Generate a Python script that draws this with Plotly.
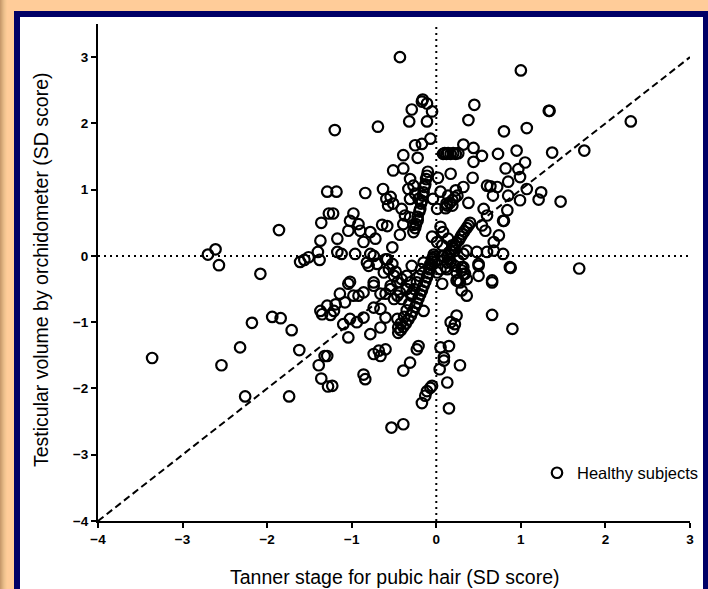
import plotly.graph_objects as go

# ---- data ----
x_ticks = [-4, -3, -2, -1, 0, 1, 2, 3]
y_ticks = [-4, -3, -2, -1, 0, 1, 2, 3]

tanner_sds = [
    -3.36, -2.70, -2.61, -2.57, -2.08, -1.86, -1.61, -1.56, -1.51, -1.40,
    -1.38, -1.37, -1.36, -1.29, -1.27, -2.18, -1.94, -1.84, -1.71, -2.32,
    -2.54, -1.62, -2.26, -1.74, -1.39, -1.36, -1.28, -1.32, -1.29, -1.37,
    -1.35, -1.29, -1.25,
    -0.43, 1.00, -0.16, -0.11, 0.45, -1.20, -0.69, -0.29, -0.32, -0.11,
    -0.17, -0.05, 0.38, 0.80, 1.07, -0.25, -0.17, -0.07, -0.22, -0.39,
    -0.51, -0.39, 0.08, 0.10, 0.12, 0.14, 0.17, 0.20, 0.23, 0.26,
    0.32, 0.44, 0.54, 0.44, 0.73, 0.95, 0.82, 0.97, 1.05, 1.07,
    0.99, 0.85, 0.72, 0.60, 0.64, 0.67, 0.85, 0.99, 0.17, 0.43,
    0.32, 0.23, 0.14, 0.12, 0.19, 0.38, 0.02, 0.05, -0.04, 0.01,
    1.33, 1.34, 2.30, 1.37, 1.75, 1.24, 1.21, 1.47, 1.69, 0.90,
    0.66,
    -1.18, -1.22, -0.84, -0.63, -0.59, -0.54, -0.57, -0.51, -0.31, -0.27,
    -0.33, -0.25, -0.31, -0.21, -0.41, -0.37, -0.31, -0.39, -0.27, -0.98,
    -1.02, -0.92, -0.90, -0.78, -0.72, -1.04, -1.17, -0.64, -0.58, -0.43,
    -0.86, -0.52, -0.78, -0.74, -0.82, -0.80, -0.70, -0.60, -0.96, -1.12,
    -1.17, -1.02, -1.14, -0.92, -0.74, -0.66, -0.48, -0.41, -0.54, -0.46,
    -0.35, -0.29,
    0.05, 0.08, -0.05, 0.01, 0.07, 0.14, 0.19, 0.08, 0.17, 0.22,
    0.13, 0.24, 0.30, 0.36, 0.48, 0.60, 0.68, 0.79, 0.50, 0.66,
    0.87, 0.88, 0.32, 0.36, 0.30, 0.24, 0.58, 0.74, 0.79, 0.80,
    0.68, 0.56, 0.60, 0.54, 0.84,
    -0.10, -0.11, -0.12, -0.13, -0.14, -0.15, -0.16, -0.17, -0.18, -0.19,
    -0.20, -0.22, -0.22, -0.24, -0.25, -0.27,
    0.40, 0.38, 0.36, 0.33, 0.31, 0.29, 0.27, 0.24, 0.22, 0.20,
    0.17, 0.15, 0.13,
    -0.03, -0.04, -0.05, -0.06, -0.08, -0.09, -0.11, -0.13, -0.15, -0.17,
    -0.19, -0.21, -0.23, -0.25, -0.28, -0.30, -0.33, -0.36, -0.39, -0.42,
    -0.45, -0.02, -0.05, -0.07, -0.02,
    -0.15, -0.18, -0.20, -0.23, -0.26, -0.29, -0.32, -0.35, -0.38, -0.42,
    -0.45,
    0.11, 0.13, 0.16, 0.19, 0.22, 0.25,
    -1.04, -1.19, -1.08, -0.98, -0.86, -0.74, -1.02, -1.04, -0.86, -0.78,
    -1.10, -1.21, -0.94, -0.66, -0.60, -0.74, -0.66, -0.46, 0.07, -0.15,
    0.05, 0.01, 0.13, 0.11, 0.15, 0.26, 0.28, 0.36, 0.32, 0.34,
    0.30, 0.50, 0.50, 0.66, 0.24, 0.17, 0.20, 0.22, -0.21, -0.23,
    0.05, 0.15, 0.09, 0.09, 0.28, 0.04, -0.39, -0.31, -0.74, -0.66,
    -0.60, -0.68, -0.86, -0.84, -1.23, -0.07, -0.11, -0.13, -0.17, -0.05,
    0.13, 0.15, -0.53, -0.39, -0.58, -0.52, -0.56, -0.62, -0.50, -0.46,
    -0.54, -0.43, -0.41, -0.50, -0.60, -0.31, -0.35, -0.29, 0.22, 0.32,
    0.26,
]

testis_sds = [
    -1.54, 0.02, 0.10, -0.14, -0.27, 0.39, -0.09, -0.06, -0.02, 0.06,
    -0.06, 0.23, 0.50, 0.97, 0.64, -1.01, -0.92, -0.94, -1.12, -1.38,
    -1.65, -1.42, -2.12, -2.12, -1.65, -1.85, -1.97, -1.51, -1.51, -0.83,
    -0.88, -0.75, -0.89,
    3.00, 2.80, 2.36, 2.30, 2.28, 1.90, 1.95, 2.21, 2.03, 2.03,
    2.33, 2.18, 2.05, 1.88, 1.93, 1.67, 1.69, 1.77, 1.48, 1.52,
    1.29, 1.32, 1.54, 1.55, 1.54, 1.55, 1.54, 1.55, 1.54, 1.55,
    1.68, 1.63, 1.51, 1.42, 1.54, 1.59, 1.32, 1.31, 1.41, 1.01,
    1.19, 1.12, 1.04, 1.06, 1.05, 0.91, 0.91, 0.84, 1.24, 1.18,
    1.04, 0.99, 0.91, 0.79, 0.76, 0.80, 1.18, 0.97, 0.86, 0.71,
    2.19, 2.19, 2.03, 1.56, 1.59, 0.96, 0.85, 0.82, -0.19, -1.10,
    -0.89,
    0.97, 0.64, 0.95, 1.01, 0.86, 0.89, 0.76, 0.79, 1.16, 1.06,
    1.01, 0.94, 0.86, 0.86, 0.71, 0.61, 0.58, 0.48, 0.47, 0.64,
    0.53, 0.48, 0.38, 0.36, 0.26, 0.38, 0.26, 0.47, 0.45, 0.32,
    0.21, 0.13, 0.03, 0.00, -0.10, -0.15, -0.12, -0.05, 0.03, 0.03,
    0.06, -0.39, -0.57, -0.60, -0.45, -0.57, -0.24, -0.35, -0.45, -0.60,
    -0.50, -0.15,
    0.44, 0.36, 0.29, 0.21, 0.16, 0.26, 0.16, 0.00, -0.09, -0.15,
    -0.20, -0.25, -0.17, 0.08, 0.06, 0.06, 0.08, 0.03, -0.15, -0.37,
    -0.17, -0.18, -0.27, -0.35, -0.52, -0.37, 0.38, 0.31, 0.53, 0.53,
    0.21, 0.71, 0.61, 0.46, 0.69,
    1.27, 1.21, 1.16, 1.08, 1.04, 0.96, 0.91, 0.83, 0.79, 0.71,
    0.67, 0.59, 0.54, 0.48, 0.42, 0.36,
    0.50, 0.46, 0.42, 0.37, 0.33, 0.29, 0.24, 0.20, 0.16, 0.11,
    0.07, 0.03, 0.00,
    0.02, -0.03, -0.08, -0.14, -0.20, -0.26, -0.32, -0.39, -0.45, -0.52,
    -0.58, -0.64, -0.71, -0.77, -0.84, -0.90, -0.96, -1.02, -1.07, -1.12,
    -1.16, -0.01, -0.05, -0.12, -0.10,
    -0.10, -0.20, -0.30, -0.40, -0.50, -0.60, -0.72, -0.82, -0.92, -1.02,
    -1.08,
    0.72, 0.76, 0.80, 0.84, 0.88, 0.91,
    -0.42, -0.73, -0.70, -0.60, -0.55, -0.40, -0.95, -1.23, -0.93, -1.18,
    -1.03, -0.83, -1.00, -1.08, -0.93, -0.78, -0.80, -0.95, -0.42, -0.83,
    -0.20, -0.25, -0.10, -0.17, -0.05, -0.37, -0.40, -0.60, -0.17, -0.27,
    -0.22, -0.12, -0.30, -0.40, -0.90, -1.00, -1.10, -1.03, -1.36, -1.41,
    -1.38, -1.36, -1.53, -1.58, -1.65, -1.71, -1.73, -1.61, -1.48, -1.51,
    -1.41, -1.43, -1.79, -1.86, -1.96, -1.99, -2.04, -2.11, -2.22, -1.96,
    -1.91, -2.30, -2.59, -2.54, -0.05, -0.12, -0.20, -0.25, -0.30, -0.40,
    -0.50, -0.55, -0.65, -0.65, -0.57, -0.40, -0.30, -0.57, 0.08, 0.03,
    -0.07,
]

x_range = [-4, 3]
y_range = [-4, 3.5]
identity_x = [-4, 3]
identity_y = [-4, 3]

W, H = 708, 589
px = lambda v: v / W
py = lambda v: 1 - v / H

fig = go.Figure()

# reference lines
fig.add_trace(go.Scatter(x=x_range, y=[0, 0], mode="lines",
                         line=dict(color="black", width=2, dash="2px,4px"),
                         showlegend=False, hoverinfo="skip"))
fig.add_trace(go.Scatter(x=[0, 0], y=y_range, mode="lines",
                         line=dict(color="black", width=2, dash="2px,4px"),
                         showlegend=False, hoverinfo="skip"))
fig.add_trace(go.Scatter(x=identity_x, y=identity_y, mode="lines",
                         line=dict(color="black", width=2, dash="7px,4px"),
                         showlegend=False, hoverinfo="skip"))

fig.add_trace(go.Scatter(
    x=tanner_sds, y=testis_sds, mode="markers", name="Healthy subjects",
    marker=dict(symbol="circle-open", size=10.5, color="black",
                line=dict(width=2.2, color="black")),
    cliponaxis=False,
))

shapes = []
# left shading strip of the orange background
strip_cols = ["#c89a6c", "#d2a574", "#dcaf7e", "#e6b986", "#eec18d", "#f5c692", "#fbca96"]
for i, c in enumerate(strip_cols):
    shapes.append(dict(type="rect", xref="paper", yref="paper", layer="below",
                       x0=px(i), x1=px(i + 1), y0=0, y1=1,
                       fillcolor=c, line=dict(width=0)))
# navy frame and white panel
shapes.append(dict(type="rect", xref="paper", yref="paper", layer="below",
                   x0=px(14), x1=1.01, y0=-0.01, y1=py(11),
                   fillcolor="#000066", line=dict(width=0)))
shapes.append(dict(type="rect", xref="paper", yref="paper", layer="below",
                   x0=px(20), x1=px(703), y0=-0.01, y1=py(17),
                   fillcolor="white", line=dict(width=0)))

axis_common = dict(showgrid=False, zeroline=False, showline=True,
                   automargin=False,
                   linecolor="black", linewidth=2, ticks="outside",
                   ticklen=5, tickwidth=2, tickcolor="black",
                   tickfont=dict(family="Liberation Sans", size=13.5,
                                 color="black", weight="bold"))

fig.update_layout(
    width=W, height=H, autosize=False,
    margin=dict(l=0, r=0, t=0, b=0, pad=0),
    paper_bgcolor="#ffcc99",
    plot_bgcolor="rgba(0,0,0,0)",
    shapes=shapes,
    xaxis=dict(domain=[px(98), px(690)], range=x_range,
               tickvals=x_ticks, **axis_common),
    yaxis=dict(domain=[py(521), py(24)], range=y_range,
               tickvals=y_ticks, **axis_common),
    legend=dict(x=px(537), y=py(473), xanchor="left", yanchor="middle",
                bgcolor="rgba(0,0,0,0)",
                font=dict(family="Liberation Sans", size=16.5, color="black")),
    annotations=[
        dict(text="Tanner stage for pubic hair (SD score)", xref="paper",
             yref="paper", x=px(394), y=py(577), showarrow=False,
             xanchor="center", yanchor="middle",
             font=dict(family="Liberation Sans", size=19.5, color="black")),
        dict(text="Testicular volume by orchidometer (SD score)", xref="paper",
             yref="paper", x=px(41), y=py(270), showarrow=False, textangle=-90,
             xanchor="center", yanchor="middle",
             font=dict(family="Liberation Sans", size=19.5, color="black")),
    ],
)

fig.write_html(
    "out.html",
    config={"displayModeBar": False},
    post_script="document.body.style.margin='0';document.body.style.overflow='hidden';",
)
